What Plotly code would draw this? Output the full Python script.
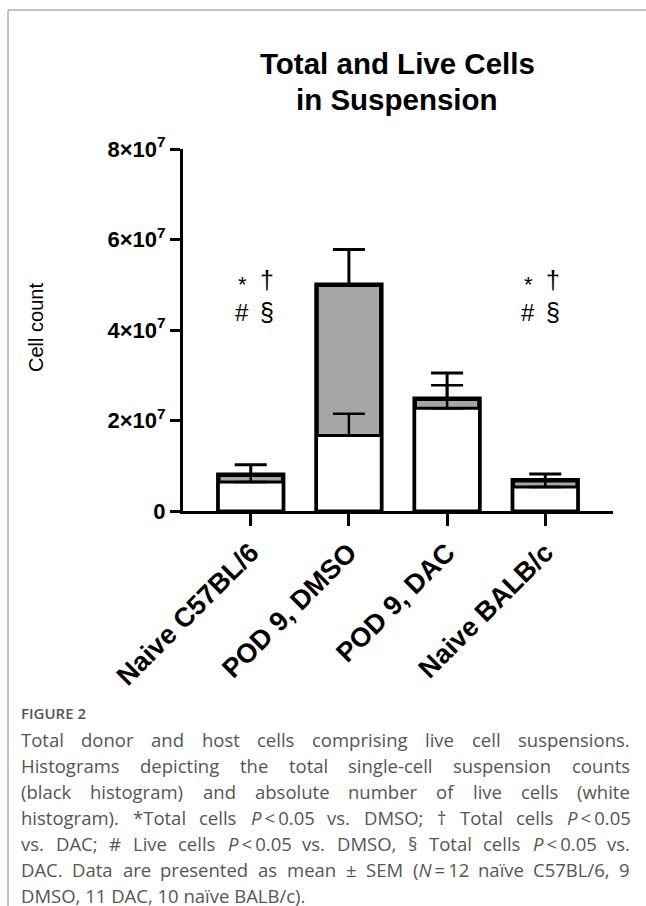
import plotly.graph_objects as go

# ---------------- data ----------------
categories = ["Naive C57BL/6", "POD 9, DMSO", "POD 9, DAC", "Naive BALB/c"]
total_cells = [0.80e7, 5.00e7, 2.48e7, 0.68e7]
total_sem = [0.22e7, 0.78e7, 0.57e7, 0.14e7]
live_cells = [0.64e7, 1.67e7, 2.27e7, 0.53e7]
live_sem = [0.16e7, 0.48e7, 0.51e7, 0.15e7]
y_tick_vals = [0, 2e7, 4e7, 6e7, 8e7]
y_tick_text = ["0", "2×10<sup>7</sup>", "4×10<sup>7</sup>", "6×10<sup>7</sup>", "8×10<sup>7</sup>"]

caption_lines = [
    "Total donor and host cells comprising live cell suspensions.",
    "Histograms depicting the total single-cell suspension counts",
    "(black histogram) and absolute number of live cells (white",
    "histogram). *Total cells P\u2009<\u20090.05 vs. DMSO; † Total cells P\u2009<\u20090.05",
    "vs. DAC; # Live cells P\u2009<\u20090.05 vs. DMSO, § Total cells P\u2009<\u20090.05 vs.",
    "DAC. Data are presented as mean ± SEM (N\u2009=\u200912 naïve C57BL/6, 9",
    "DMSO, 11 DAC, 10 naïve BALB/c).",
]

# ---------------- layout geometry (pixels) ----------------
W, H = 646, 906
L, R_EDGE = 183, 613
TOP, BOT = 149, 511
PW, PH = R_EDGE - L, BOT - TOP


def px(x):
    return (x - L) / PW


def py(y):
    return (BOT - y) / PH


ARIAL = "Liberation Sans, Arial, Helvetica, sans-serif"
CAP_FONT = "Open Sans, sans-serif"
xs = list(range(len(categories)))

fig = go.Figure()
fig.add_trace(go.Bar(
    x=xs, y=total_cells, width=0.66,
    marker=dict(color="#a6a6a6", line=dict(color="black", width=4.5)),
    error_y=dict(type="data", symmetric=False, array=total_sem,
                 arrayminus=[0] * 4, color="black", thickness=3, width=16),
    showlegend=False, hoverinfo="skip",
))
fig.add_trace(go.Bar(
    x=xs, y=live_cells, width=0.66,
    marker=dict(color="white", line=dict(color="black", width=3)),
    error_y=dict(type="data", symmetric=False, array=live_sem,
                 arrayminus=[0] * 4, color="black", thickness=2.5, width=16),
    showlegend=False, hoverinfo="skip",
))

fig.update_layout(
    width=W, height=H, barmode="overlay",
    margin=dict(l=L, r=W - R_EDGE, t=TOP, b=H - BOT, pad=0),
    plot_bgcolor="white", paper_bgcolor="white",
    xaxis=dict(range=[-0.69, 3.69], tickvals=xs, ticktext=categories,
               tickangle=-45, showline=True, linecolor="black", linewidth=3,
               ticks="outside", ticklen=12, tickwidth=3, tickcolor="black",
               showgrid=False, zeroline=False,
               tickfont=dict(family=ARIAL, size=27, color="black", weight="bold")),
    yaxis=dict(range=[0, 8e7], tickvals=y_tick_vals, ticktext=y_tick_text,
               showline=True, linecolor="black", linewidth=3,
               ticks="outside", ticklen=10, tickwidth=3, tickcolor="black",
               showgrid=False, zeroline=False,
               tickfont=dict(family=ARIAL, size=22, color="black", weight="bold")),
)

ann = []


def add(x, y, text, font, xanchor="center", yanchor="middle", **kw):
    ann.append(dict(x=px(x), y=py(y), xref="paper", yref="paper", text=text,
                    showarrow=False, font=font, xanchor=xanchor, yanchor=yanchor, **kw))


# title
tfont = dict(family=ARIAL, size=29.5, color="black", weight="bold")
add(397, 63, "Total and Live Cells", tfont)
add(397, 100, "in Suspension", tfont)
# y-axis title
add(36, 328, "Cell count", dict(family=ARIAL, size=20, color="black"), textangle=-90)
# significance symbols
for (sx, tx) in [(242, 267), (528, 553)]:
    add(sx, 284, "*", dict(family=ARIAL, size=22, color="black"))
    add(tx, 280, "†", dict(family=ARIAL, size=25, color="black"))
    add(sx, 312, "#", dict(family=ARIAL, size=24, color="black"))
    add(tx, 312, "§", dict(family=ARIAL, size=25, color="black"))

# caption
add(19, 713, "FIGURE 2", dict(family=CAP_FONT, size=15, color="#555555", weight=600), xanchor="left")

OS = {' ': .26, 'a': .556, 'b': .613, 'c': .48, 'd': .613, 'e': .561, 'f': .336, 'g': .541,
      'h': .615, 'i': .258, 'j': .258, 'k': .529, 'l': .258, 'm': .935, 'n': .615, 'o': .601,
      'p': .613, 'q': .613, 'r': .409, 's': .479, 't': .352, 'u': .615, 'v': .499, 'w': .775,
      'x': .522, 'y': .5, 'z': .468, 'A': .633, 'B': .648, 'C': .631, 'D': .729, 'E': .556,
      'F': .516, 'G': .728, 'H': .738, 'I': .279, 'J': .267, 'K': .614, 'L': .519, 'M': .903,
      'N': .754, 'O': .779, 'P': .602, 'Q': .779, 'R': .618, 'S': .549, 'T': .553, 'U': .728,
      'V': .595, 'W': .926, 'X': .577, 'Y': .56, 'Z': .571, '.': .266, ',': .25, ';': .266,
      '(': .296, ')': .296, '-': .322, '/': .371, '*': .551, '#': .646, '§': .5, '†': .5,
      '<': .572, '=': .572, '±': .572, 'ï': .258, '\u2009': .12}
CAP_SIZE = 18.5
X0, X1 = 19, 628


def wwidth(s):
    return sum(OS.get(c, .572) for c in s) * CAP_SIZE


def fmt(word):
    return word.replace("P\u2009", "<i>P</i>\u2009").replace("N\u2009", "<i>N</i>\u2009")


cf = dict(family=CAP_FONT, size=CAP_SIZE, color="#555555")
for i, line in enumerate(caption_lines):
    yy = 739 + i * 26
    if i == len(caption_lines) - 1:
        add(X0, yy, fmt(line), cf, xanchor="left")
        continue
    words = line.split(" ")
    widths = [wwidth(w) for w in words]
    gap = (X1 - X0 - sum(widths)) / (len(words) - 1)
    cx = X0
    for w, ww in zip(words, widths):
        add(cx, yy, fmt(w), cf, xanchor="left")
        cx += ww + gap

fig.update_layout(annotations=ann)

# frame lines
fig.add_shape(type="line", xref="paper", yref="paper", x0=px(8), x1=px(646), y0=py(10), y1=py(10),
              line=dict(color="#888888", width=1))
fig.add_shape(type="line", xref="paper", yref="paper", x0=px(8), x1=px(8), y0=py(10), y1=py(906),
              line=dict(color="#888888", width=1))

fig.write_html("out.html")
